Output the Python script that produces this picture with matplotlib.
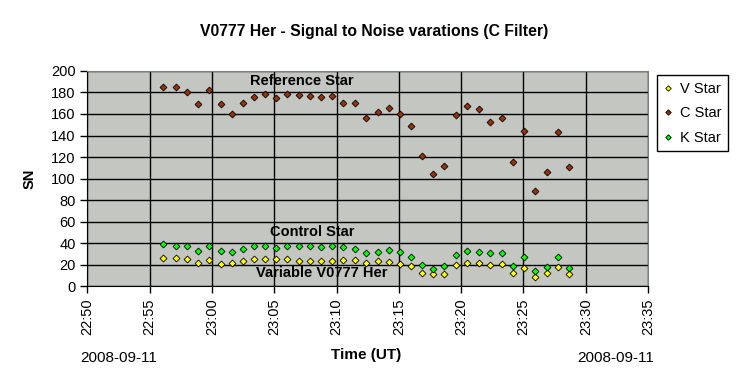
import matplotlib
matplotlib.use("Agg")
import matplotlib.pyplot as plt
import matplotlib.dates as mdates
import pandas as pd

plt.rcParams['font.family'] = ['Liberation Sans', 'DejaVu Sans']

date_str = "2008-09-11"
times = ["22:56:06", "22:57:05", "22:57:59", "22:58:52", "22:59:44", "23:00:43",
         "23:01:35", "23:02:28", "23:03:23", "23:04:16", "23:05:07", "23:06:00",
         "23:06:58", "23:07:52", "23:08:46", "23:09:38", "23:10:30", "23:11:28",
         "23:12:22", "23:13:19", "23:14:11", "23:15:04", "23:15:59", "23:16:52",
         "23:17:44", "23:18:39", "23:19:34", "23:20:28", "23:21:25", "23:22:19",
         "23:23:16", "23:24:08", "23:25:03", "23:25:56", "23:26:52", "23:27:45",
         "23:28:40"]

v_star = [26.3, 26.3, 25.4, 21.7, 24.5, 20.2, 21.1, 23.5, 25.4, 25.4, 24.8, 25.4,
          23.0, 23.5, 23.5, 23.5, 24.5, 24.5, 21.7, 23.5, 22.6, 20.7, 18.9, 12.2,
          10.9, 11.6, 20.0, 21.7, 21.7, 19.9, 20.7, 12.4, 17.1, 8.7, 12.4, 18.0, 11.5]
c_star = [185.1, 185.0, 180.7, 169.3, 182.6, 169.3, 160.0, 170.2, 175.8, 178.6, 175.2,
          178.6, 177.7, 177.0, 176.1, 177.0, 170.5, 170.5, 156.6, 162.1, 165.9, 160.3,
          149.1, 121.2, 104.5, 111.9, 159.1, 167.4, 165.0, 152.9, 156.6, 115.3, 144.5,
          88.7, 106.3, 143.5, 111.0]
k_star = [39.4, 37.5, 36.9, 32.6, 37.5, 32.6, 31.6, 34.4, 36.9, 36.9, 35.6, 36.9,
          36.9, 36.9, 36.3, 36.9, 36.0, 34.4, 31.0, 31.9, 33.8, 31.6, 27.3, 19.9,
          16.1, 19.0, 28.6, 32.8, 31.9, 30.4, 31.0, 18.9, 27.3, 14.3, 17.7, 27.3, 17.1]

series_names = ["V Star", "C Star", "K Star"]
series_colors = ["#FFFF00", "#993300", "#00FF00"]

x_start = "22:50"
x_end = "23:35"
annotations = [("Reference Star", "23:07:12", 190.5),
               ("Control Star", "23:08:02", 50.5),
               ("Variable V0777 Her", "23:08:50", 12.4)]

t = pd.to_datetime([f"{date_str} {s}" for s in times])

fig = plt.figure(figsize=(7.51, 3.85), dpi=100)
ax = fig.add_axes([0.1163, 0.2571, 0.7467, 0.5585])
ax.set_facecolor("#c4c6c2")

for vals, name, col in zip([v_star, c_star, k_star], series_names, series_colors):
    ax.plot(t, vals, linestyle="none", marker="D", markersize=3.5,
            markerfacecolor=col, markeredgecolor="black", markeredgewidth=0.6,
            label=name)

x0 = pd.Timestamp(f"{date_str} {x_start}")
x1 = pd.Timestamp(f"{date_str} {x_end}")
ax.set_xlim(x0, x1)
ax.set_ylim(0, 200)
ax.set_yticks(range(0, 201, 20))
ax.xaxis.set_major_locator(mdates.MinuteLocator(byminute=range(0, 60, 5)))
ax.xaxis.set_major_formatter(mdates.DateFormatter("%H:%M"))
ax.grid(True, color="black", linewidth=1.0)
ax.set_axisbelow(True)

for lbl in ax.get_xticklabels():
    lbl.set_rotation(90)
ax.tick_params(axis="both", labelsize=10.5, length=5, width=1, color="black", direction="out")
ax.tick_params(axis="x", pad=4)
for sp in ["top", "right"]:
    ax.spines[sp].set_color("#808080")
for sp in ["left", "bottom"]:
    ax.spines[sp].set_color("black")

for txt, tm, yv in annotations:
    ax.text(pd.Timestamp(f"{date_str} {tm}"), yv, txt, ha="center", va="center",
            fontsize=10.5, fontweight="bold", color="black")

ax.set_ylabel("SN", fontsize=10.5, fontweight="bold", labelpad=10)
fig.text(0.4874, 0.078, "Time (UT)", ha="center", va="center", fontsize=11, fontweight="bold")
fig.text(0.1065, 0.070, date_str, ha="left", va="center", fontsize=11)
fig.text(0.871, 0.070, date_str, ha="right", va="center", fontsize=11)
fig.text(0.498, 0.918, "V0777 Her - Signal to Noise varations (C Filter)",
         ha="center", va="center", fontsize=11.3, fontweight="bold")

leg = ax.legend(loc="upper left", bbox_to_anchor=(0.875, 0.805),
                bbox_transform=fig.transFigure, borderaxespad=0, fancybox=False,
                edgecolor="black", framealpha=1, fontsize=10.5, markerscale=0.8,
                handlelength=0.6, handletextpad=0.5, labelspacing=0.72,
                borderpad=0.45)
leg.get_frame().set_linewidth(1.0)

fig.savefig("out.png", dpi=100)
